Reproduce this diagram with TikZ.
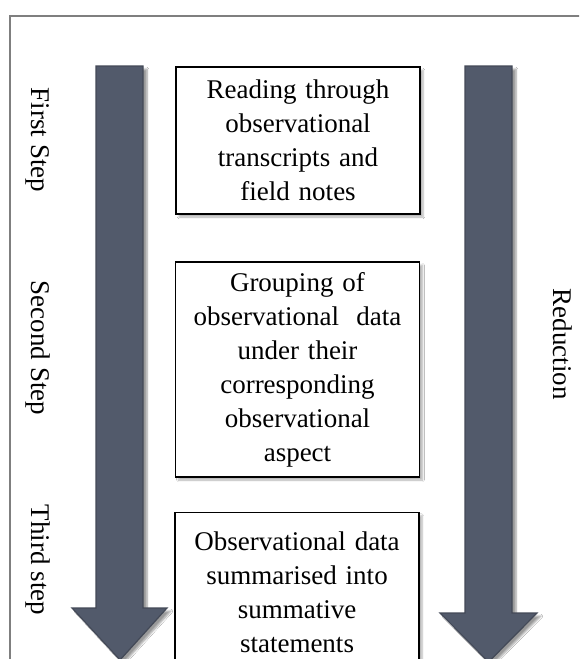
\documentclass[tikz,border=0pt]{standalone}
\usepackage{fontspec}
\setmainfont{Liberation Serif}
\usetikzlibrary{shadows.blur}
\definecolor{arrowfill}{HTML}{525A6B}
\definecolor{arrowedge}{HTML}{434957}
\definecolor{framegray}{HTML}{7F7F7F}
\tikzset{
  txt/.style={font=\fontsize{27}{34}\selectfont},
  stepbox/.style={txt, draw=black, line width=1.2pt, fill=white, align=center,
    text width=238pt, inner sep=3pt,
    blur shadow={shadow xshift=3pt, shadow yshift=-3pt, shadow blur steps=6, shadow opacity=30}},
  sidelabel/.style={txt, rotate=-90, anchor=center},
  bigarrow/.style={fill=arrowfill, draw=arrowedge, line width=1.2pt,
    blur shadow={shadow xshift=4pt, shadow yshift=-3pt, shadow blur steps=6, shadow opacity=40}}
}
\begin{document}
\begin{tikzpicture}[x=1pt,y=-1pt]
\useasboundingbox (0,0) rectangle (579,659);
\clip (0,0) rectangle (579,659);
\fill[white] (0,0) rectangle (579,659);
% frame
\draw[framegray, line width=1.2pt] (10,680) -- (10,16) -- (600,16);
% arrows
\draw[bigarrow] (96,66) -- (143,66) -- (143,608) -- (167,608) -- (120,660) -- (72,608) -- (96,608) -- cycle;
\draw[bigarrow] (465,66) -- (512,66) -- (512,613) -- (537,613) -- (488.5,662) -- (440,613) -- (465,613) -- cycle;
% boxes
\node[stepbox, minimum height=147pt] (b1) at (298,140.5) {Reading through\\observational\\transcripts and\\field notes};
\node[stepbox, minimum height=215pt] (b2) at (297.5,369.5) {Grouping of\\observational\hspace{0.3em} data\\under their\\corresponding\\observational\\aspect};
\node[stepbox, minimum height=160pt, anchor=north] (b3) at (297,512) {Observational data\\summarised into\\summative\\statements};
% labels
\node[sidelabel] (l1) at (38,140) {First Step};
\node[sidelabel] (l2) at (38,348) {Second Step};
\node[sidelabel] (l3) at (38,560) {Third step};
\node[sidelabel] (l4) at (563,344) {Reduction};
\end{tikzpicture}
\end{document}
